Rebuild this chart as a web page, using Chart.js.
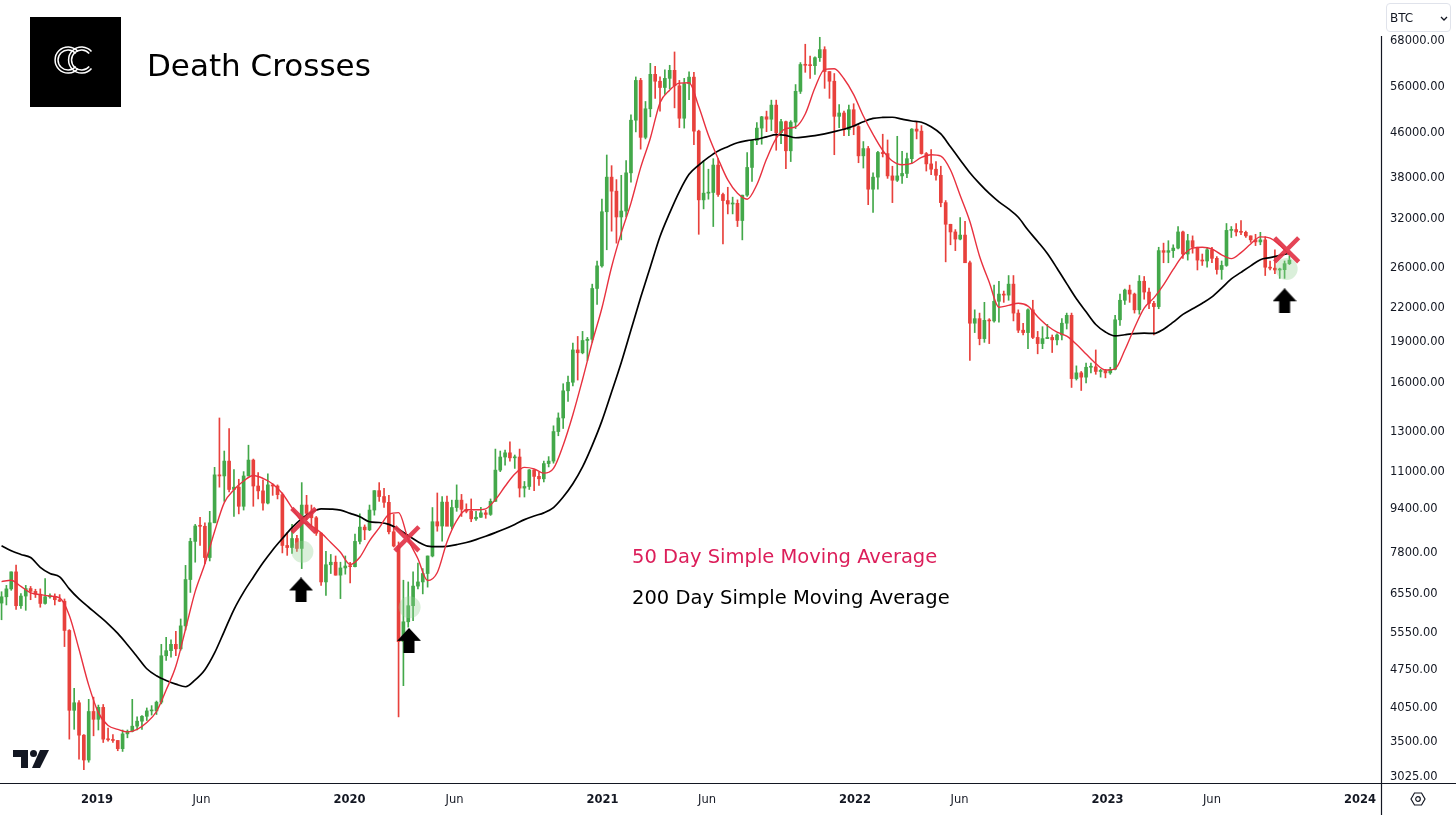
<!DOCTYPE html>
<html lang="en">
<head>
<meta charset="utf-8">
<title>Death Crosses</title>
<script src="https://cdn.jsdelivr.net/npm/chart.js@4.4.1/dist/chart.umd.min.js"></script>
<style>
  html, body { margin: 0; padding: 0; background: #fff; }
  #wrap { position: relative; width: 1456px; height: 815px; overflow: hidden;
          font-family: "DejaVu Sans", sans-serif; color: #131722; }
  #chart { position: absolute; left: 0; top: 0; }
  .logo { position: absolute; left: 30px; top: 17px; width: 91px; height: 90px; background: #000; }
  .title { position: absolute; left: 147px; top: 50px; font-size: 31px; line-height: 31px;
           white-space: nowrap; color: #000; }
  .note { position: absolute; left: 632px; font-size: 19.5px; line-height: 19.5px; white-space: nowrap; }
  .sym { position: absolute; left: 1386px; top: 3px; width: 65px; height: 29px; box-sizing: border-box;
         border: 1px solid #e0e3eb; border-radius: 4px; font-size: 12px; line-height: 28px; padding-left: 3px; }
  .abs { position: absolute; }
</style>
</head>
<body>
<div id="wrap">
  <canvas id="chart" width="1456" height="815"></canvas>

  <div class="logo">
    <svg width="91" height="90" viewBox="0 0 91 90">
      <g fill="none" stroke="#fff" stroke-width="1.5">
        <path d="M48 34.6 A13 13 0 1 0 48 51.4"/>
        <path d="M45.7 36.6 A10 10 0 1 0 45.7 49.4"/>
        <path d="M61.5 34.6 A13 13 0 1 0 61.5 51.4"/>
        <path d="M59.2 36.6 A10 10 0 1 0 59.2 49.4"/>
      </g>
    </svg>
  </div>
  <div class="title">Death Crosses</div>

  <div class="note" style="top:547px; color:#dc1e5a;">50 Day Simple Moving Average</div>
  <div class="note" style="top:588px; color:#000;">200 Day Simple Moving Average</div>

  <div class="sym">BTC</div>
  <svg class="abs" style="left:1440px; top:16px;" width="8" height="6" viewBox="0 0 8 6">
    <polyline points="1,1 4,4 7,1" fill="none" stroke="#131722" stroke-width="1.3"/>
  </svg>

  <svg class="abs" style="left:13px; top:750px;" width="36" height="18" viewBox="0 0 36 18">
    <g fill="#131722">
      <path d="M0 0H15V18H8V7H0Z"/>
      <circle cx="20.5" cy="3.5" r="3.5"/>
      <path d="M27 0H36L27 18H19Z"/>
    </g>
  </svg>

  <svg class="abs" style="left:1410px; top:792px;" width="16" height="14" viewBox="0 0 16 14">
    <g fill="none" stroke="#131722" stroke-width="1.2">
      <path d="M1 7 L4.5 1 H11.5 L15 7 L11.5 13 H4.5 Z"/>
      <circle cx="8" cy="7" r="2.3"/>
    </g>
  </svg>
</div>

<script>
// BTC weekly candles, weeks starting Monday 2018-08-13 (open = previous close)
const firstWeek = '2018-08-13';
const firstOpen = 6310;

const candleHigh = [
  6620,6800,7200,7410,6570,6800,6770,6690,6700,7000,6560,6560,6540,6420,5640,4400,4180,3620,4200,4240,4100,
  4110,3720,3620,3530,3690,3690,4200,3900,3920,4050,4090,4170,5300,5460,5400,5600,5900,7400,8300,8800,9070,8860,9300,11200,13800,12000,13200,11100,10650,11000,12300,11600,10950,10620,10900,10450,10400,10050,8500,8800,8400,10500,9950,9550,9100,8480,7850,7750,7700,7500,7700,7500,
  8450,9200,8780,9550,10150,10500,10250,9950,9180,8170,6950,6900,7200,7470,7300,7700,9450,10050,9900,9920,9750,10400,9990,9600,9800,9300,9460,9340,9800,12100,12000,12050,12480,11800,12100,10550,11100,11100,10970,11500,11720,13350,14100,15950,16480,18950,19480,19900,19400,24300,26800,34800,
  41950,40100,37800,38500,40950,49700,58350,58000,52600,61800,61000,58400,60100,61300,64850,57500,58000,59600,59500,46600,40900,39500,41300,41300,35700,36600,35100,34700,35400,42400,44700,48100,49400,50500,52900,52900,48800,48400,48500,56500,62000,67000,63700,63500,69000,66300,59700,59200,51900,50500,51800,52100,
  47500,44400,43500,38900,42600,45800,44700,40000,45400,42600,42300,46900,48200,47500,42400,42900,40800,40000,34600,31300,30600,32200,31700,26800,21800,21500,22500,21000,24200,24600,23600,25200,25200,21800,20600,21900,22700,19900,20300,20500,19600,19700,21000,21500,21500,17200,16800,17400,17400,18400,16950,16950,
  17100,21300,23300,23800,24200,23400,25200,25100,23900,22600,28400,28900,29200,28700,31000,30400,30000,29800,28400,27600,28400,28400,27300,26800,31400,31000,31400,31800,30400,29800,30000,30250,29700,26800,28100,26000,26800,27400
];
const candleLow = [
  5880,6260,6660,6140,6170,6120,6400,6460,6200,6280,6440,6260,6350,5250,3550,3700,3260,3120,3220,3600,3690,
  3500,3520,3500,3380,3370,3570,3660,3690,3700,3840,3930,3940,4120,4950,5020,5050,5170,5630,6600,7500,8050,7450,7540,8860,10300,9700,10100,9100,9200,9350,10800,9500,9800,9350,9600,9950,9800,7800,7720,7780,7850,7300,8980,8700,8400,6800,6520,7150,7100,6430,7130,6870,
  7350,8100,8250,8570,9150,9700,9450,8450,8000,3900,4450,5700,5860,6700,6560,6750,7670,8550,8200,8800,8630,9300,9100,9240,8900,8950,9060,9030,9140,9700,11000,11300,11500,11150,9880,9880,10200,10150,10380,10530,11220,11400,12800,13200,14800,15800,16200,18100,17600,19000,22300,26100,
  28100,30400,28900,29300,32300,37400,46250,43000,44900,49300,53300,50500,54200,55500,51200,47100,47000,53000,43800,30000,33400,34800,31000,35200,28800,32700,32700,31000,29300,35200,37500,43800,43900,46300,46500,42800,44000,39600,40800,46900,54400,59500,58000,59000,62300,55600,53300,42000,47100,45500,45500,45700,
  40600,39700,34000,32900,36300,41600,38000,34300,37500,37200,38100,40500,44900,42100,39200,38600,37700,33700,26700,28700,28000,29300,26600,17600,19800,18800,19000,18900,20700,20700,22500,22700,20800,19800,19600,18500,19300,18100,18500,19300,18200,18800,19200,20100,15700,16200,15500,16000,16700,16600,16400,16350,
  16600,16900,20400,22300,22500,21500,21400,22800,21900,19600,21900,26600,26600,27200,28200,27100,26900,27700,25800,26300,26100,26600,25350,24800,26200,29600,29800,29950,29600,29000,28600,28700,25200,25800,25400,24900,24900,26400
];
const candleClose = [
  6480,6700,7200,6240,6500,6710,6630,6550,6300,6480,6480,6400,6360,5620,4010,4140,3610,3250,3990,3860,4060,
  3550,3540,3530,3410,3630,3670,3750,3830,3910,4000,4000,4150,5050,5160,5300,5200,5730,6970,8190,8740,8730,7650,8860,10850,10800,11500,10200,10300,9500,10800,11550,10350,10140,9630,10400,10350,9980,8050,7980,8290,7950,9550,9220,9050,8480,6900,7420,7500,7100,7320,7380,7360,
  8190,8700,8600,9350,10150,9900,9660,8530,8030,5360,5830,6240,6780,6900,7150,7700,8900,8740,9670,8730,9450,9750,9380,9300,9010,9070,9240,9180,9700,11070,11700,11910,11660,11700,10260,10330,11080,10780,10670,11380,11500,13030,13800,15480,16050,18400,18180,19150,19250,23860,26250,33000,
  38200,36000,32280,33100,38900,48600,57500,45200,51000,59000,57300,55800,58000,60000,56200,49000,56700,58300,46400,34700,35700,35800,40200,35500,34600,34100,34200,31800,35400,39800,44600,47000,49300,48800,51800,46100,48300,42700,48200,54900,61500,61300,61200,63300,65500,59700,57300,49400,50100,46700,50800,47300,
  41800,43100,36300,38200,42400,42200,38400,37700,38400,38800,41300,46800,46400,42200,40400,39500,38500,34300,31300,30300,29400,29900,26600,20600,21000,19300,20850,20800,22600,23300,23200,24300,21500,20000,19800,21800,19400,18900,19300,19400,19200,19600,20600,21300,16300,16700,16400,17100,17130,16800,16850,16700,
  16950,20900,22700,23700,23300,21800,24600,23500,22400,22100,28000,27800,28000,28300,30300,27600,29200,28400,26900,26800,28100,27100,25850,26300,30500,30600,30300,30250,29800,29300,29050,29300,26100,26000,25800,25830,26500,26900
];

// moving averages every 14 days from 2018-08-16
const smaStart = '2018-08-16';
const sma50 = [
  6910,6950,6770,6590,6540,6500,6450,5990,5190,4460,
  3970,3760,3700,3660,3700,3810,3990,4370,4830,5650,
  6630,7450,8540,9650,10190,10570,10820,10690,10440,10030,
  9440,8920,8750,8490,8150,7820,7430,7660,8210,8670,
  9180,9250,8260,7610,6940,7180,8170,8940,9360,9360,
  9400,9770,10340,10890,11200,11130,10930,11150,12300,13990,
  16240,19010,21970,26130,30180,34230,39760,45030,52340,55180,
  56840,56940,51480,45600,41300,37750,35680,34800,37000,41230,
  45010,46890,47230,49900,55740,60260,60410,57900,54160,49460,
  45780,42780,40890,40250,40480,41530,42000,41740,39360,35350,
  31670,27350,24490,22040,22210,22410,22150,21170,20380,19840,
  19500,18840,18090,17370,16900,16990,18390,20210,21950,22930,
  24230,25860,27420,28290,28400,28190,27510,27070,27770,28800,
  29680,29530,28640,27520
];
const sma200 = [
  8040,7870,7750,7650,7340,7150,7050,6700,6420,6200,
  5990,5780,5550,5290,5030,4780,4640,4550,4480,4430,
  4560,4760,5110,5600,6140,6610,7040,7480,7900,8290,
  8680,9020,9260,9400,9390,9350,9220,9090,8900,8870,
  8800,8620,8390,8180,8030,8010,8020,8080,8150,8250,
  8370,8500,8640,8800,8980,9120,9240,9450,9880,10450,
  11220,12290,13630,15400,17450,20020,22960,26130,29720,32840,
  35940,38650,40190,41520,42670,43450,44180,44570,44840,45290,
  45720,45580,45120,45290,45530,45880,46300,46770,47410,48280,
  48960,49170,49210,48810,48440,48180,47250,45850,43420,41090,
  38930,37160,35650,34410,33400,32240,30540,29100,27660,25990,
  24350,22840,21620,20490,19850,19520,19620,19710,19750,19730,
  20090,20690,21380,21900,22420,23030,23900,24840,25540,26250,
  26950,27180,27440,27690
];

// death cross markers, highlighted dips and arrows
const crossDates = ['2019-10-27', '2020-03-24', '2023-09-17'];
const crossPrices = [8950, 8280, 28100];
const dipDates = ['2019-10-25', '2020-03-28', '2023-09-17'];
const dipPrices = [7840, 6200, 25920];
const arrowDates = ['2019-10-23', '2020-03-27', '2023-09-14'];
const arrowPrices = [6670, 5390, 22650];

const yTickValues = [68000, 56000, 46000, 38000, 32000, 26000, 22000, 19000, 16000, 13000,
                     11000, 9400, 7800, 6550, 5550, 4750, 4050, 3500, 3025];
const xTickDates = ['2019-01-01', '2019-06-01', '2020-01-01', '2020-06-01', '2021-01-01', '2021-06-01',
                    '2022-01-01', '2022-06-01', '2023-01-01', '2023-06-01', '2024-01-01'];
const xTickLabels = ['2019', 'Jun', '2020', 'Jun', '2021', 'Jun', '2022', 'Jun', '2023', 'Jun', '2024'];

const GREEN = '#43a84a';
const RED = '#e8413c';

const DAY = 864e5;
const ORIGIN = Date.UTC(2019, 0, 1);
const dayOf = s => (Date.parse(s + 'T00:00:00Z') - ORIGIN) / DAY;

const week0 = dayOf(firstWeek) + 3;          // mid-week
const opens = candleClose.map((c, i) => i ? candleClose[i - 1] : firstOpen);
const candleColors = candleClose.map((c, i) => c >= opens[i] ? GREEN : RED);
const wicks = candleHigh.map((h, i) => ({ x: week0 + 7 * i, y: [candleLow[i], h] }));
const bodies = candleClose.map((c, i) => ({ x: week0 + 7 * i, y: [opens[i], c] }));

const sma0 = dayOf(smaStart);
const line50 = sma50.map((v, k) => ({ x: sma0 + 14 * k, y: v }));
const line200 = sma200.map((v, k) => ({ x: sma0 + 14 * k, y: v }));

const pts = (dates, prices) => dates.map((d, i) => ({ x: dayOf(d), y: prices[i] }));

const xTickDays = xTickDates.map(dayOf);
const xLabelOf = new Map(xTickDays.map((d, i) => [d, xTickLabels[i]]));

// up arrow used as point style
const arrow = document.createElement('canvas');
arrow.width = 24; arrow.height = 25;
(() => {
  const c = arrow.getContext('2d');
  c.fillStyle = '#000';
  c.beginPath();
  c.moveTo(0, 13); c.lineTo(12, 0); c.lineTo(24, 13);
  c.lineTo(17.5, 13); c.lineTo(17.5, 25); c.lineTo(6.5, 25); c.lineTo(6.5, 13);
  c.closePath();
  c.fill();
})();

const axisLines = {
  id: 'axisLines',
  afterDraw(chart) {
    const { ctx, chartArea } = chart;
    ctx.save();
    ctx.strokeStyle = '#131722';
    ctx.lineWidth = 1.2;
    ctx.beginPath();
    ctx.moveTo(0, chartArea.bottom + 0.5);
    ctx.lineTo(chart.width, chartArea.bottom + 0.5);
    ctx.moveTo(chartArea.right + 0.5, 36);
    ctx.lineTo(chartArea.right + 0.5, chart.height);
    ctx.stroke();
    ctx.restore();
  }
};

Chart.defaults.font.family = '"DejaVu Sans", sans-serif';
Chart.defaults.color = '#131722';

new Chart(document.getElementById('chart'), {
  type: 'bar',
  data: {
    datasets: [
      {
        type: 'line', label: 'dips', data: pts(dipDates, dipPrices), showLine: false,
        pointStyle: 'circle', pointRadius: 11, pointBorderWidth: 0,
        pointBackgroundColor: 'rgba(150, 210, 150, 0.35)', order: 0
      },
      {
        type: 'line', label: 'crosses', data: pts(crossDates, crossPrices), showLine: false,
        pointStyle: 'crossRot', pointRadius: 17, pointBorderWidth: 4.5,
        pointBorderColor: 'rgba(226, 52, 72, 0.92)', order: 0
      },
      {
        type: 'line', label: 'arrows', data: pts(arrowDates, arrowPrices), showLine: false,
        pointStyle: arrow, pointRadius: 12, order: 0
      },
      {
        type: 'line', label: '50 Day SMA', data: line50, borderColor: '#e8313f', borderWidth: 1.4,
        pointRadius: 0, cubicInterpolationMode: 'monotone', order: 1
      },
      {
        type: 'line', label: '200 Day SMA', data: line200, borderColor: '#000', borderWidth: 1.7,
        pointRadius: 0, cubicInterpolationMode: 'monotone', order: 1
      },
      {
        label: 'bodies', data: bodies, backgroundColor: candleColors, barThickness: 3,
        minBarLength: 1, grouped: false, borderWidth: 0, order: 2
      },
      {
        label: 'wicks', data: wicks, backgroundColor: candleColors, barThickness: 1,
        grouped: false, borderWidth: 0, order: 3
      }
    ]
  },
  options: {
    responsive: false,
    animation: false,
    events: [],
    layout: { padding: 0, autoPadding: false },
    plugins: { legend: { display: false }, tooltip: { enabled: false } },
    scales: {
      x: {
        type: 'linear',
        min: -140.24,
        max: 1856.4,
        offset: false,
        grid: { display: false, drawTicks: false },
        border: { display: false },
        afterBuildTicks: s => { s.ticks = xTickDays.map(v => ({ value: v })); },
        afterFit: s => { s.height = 32; s.paddingLeft = 0; s.paddingRight = 0; },
        ticks: {
          autoSkip: false, maxRotation: 0, padding: 10, color: '#131722',
          callback: v => xLabelOf.get(v) ?? '',
          font: c => ({ size: 11.5, weight: c.tick && /^\d{4}$/.test(c.tick.label) ? 'bold' : 'normal' })
        }
      },
      y: {
        type: 'logarithmic',
        position: 'right',
        min: 2949,
        max: 80780,
        grid: { display: false, drawTicks: false },
        border: { display: false },
        afterBuildTicks: s => { s.ticks = yTickValues.map(v => ({ value: v })); },
        afterFit: s => { s.width = 75; s.paddingTop = 0; s.paddingBottom = 0; },
        ticks: {
          autoSkip: false, padding: 9, color: '#131722', font: { size: 11.5 },
          callback: v => Number(v).toFixed(2)
        }
      }
    }
  },
  plugins: [axisLines]
});
</script>
</body>
</html>
